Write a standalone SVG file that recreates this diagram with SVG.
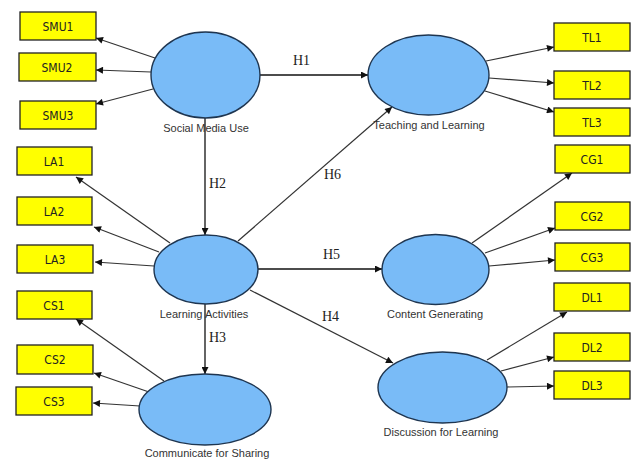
<svg xmlns="http://www.w3.org/2000/svg" width="631" height="462" viewBox="0 0 631 462">
<defs>
<marker id="ah" viewBox="0 0 10 10" refX="10" refY="5" markerWidth="9" markerHeight="7" markerUnits="userSpaceOnUse" orient="auto">
<path d="M0,0 L10,5 L0,10 z" fill="#111"/>
</marker>
<style>
.box{fill:#FFFF00;stroke:#222;stroke-width:1.3}
.bt{font-family:"DejaVu Sans Condensed","Liberation Sans",Arial,sans-serif;font-stretch:condensed;font-size:12px;fill:#222;text-anchor:middle}
.el{fill:#79BBF7;stroke:#1E3550;stroke-width:1.4}
.et{font-family:"Liberation Sans",Arial,sans-serif;font-size:11px;fill:#333;text-anchor:middle}
.ln{stroke:#333;stroke-width:1.2;fill:none;marker-end:url(#ah)}
.hl{stroke:#111;stroke-width:1.3;fill:none;marker-end:url(#ah)}
.ht{font-family:"Liberation Serif","Times New Roman",serif;font-size:14px;fill:#222}
</style>
</defs>
<rect width="631" height="462" fill="#fff"/>
<g id="connectors">
<line class="hl" x1="260" y1="75" x2="368" y2="75"/>
<line class="hl" x1="205" y1="118" x2="205" y2="235"/>
<line class="hl" x1="205" y1="304" x2="205" y2="374"/>
<line class="hl" x1="258" y1="269" x2="382" y2="269"/>
<line class="ln" x1="250" y1="290" x2="393" y2="363"/>
<line class="ln" x1="238" y1="241" x2="392" y2="107"/>
<line class="ln" x1="155" y1="58" x2="96" y2="38"/>
<line class="ln" x1="151" y1="72" x2="96" y2="70"/>
<line class="ln" x1="153" y1="89" x2="96" y2="104"/>
<line class="ln" x1="170" y1="243" x2="76" y2="177"/>
<line class="ln" x1="159" y1="252" x2="94" y2="227"/>
<line class="ln" x1="154" y1="266" x2="95" y2="262"/>
<line class="ln" x1="164" y1="381" x2="76" y2="319"/>
<line class="ln" x1="149" y1="392" x2="94" y2="373"/>
<line class="ln" x1="140" y1="406" x2="93" y2="403"/>
<line class="ln" x1="486" y1="61" x2="554" y2="47"/>
<line class="ln" x1="489" y1="78" x2="554" y2="83"/>
<line class="ln" x1="485" y1="91" x2="554" y2="112"/>
<line class="ln" x1="472" y1="243" x2="572" y2="173"/>
<line class="ln" x1="485" y1="253" x2="555" y2="228"/>
<line class="ln" x1="489" y1="266" x2="555" y2="260"/>
<line class="ln" x1="487" y1="360" x2="567" y2="312"/>
<line class="ln" x1="501" y1="371" x2="554" y2="357"/>
<line class="ln" x1="507" y1="387" x2="554" y2="386"/>
<text class="ht" x="293" y="65">H1</text>
<text class="ht" x="209" y="188">H2</text>
<text class="ht" x="209" y="342">H3</text>
<text class="ht" x="322" y="321">H4</text>
<text class="ht" x="323" y="259">H5</text>
<text class="ht" x="324" y="179">H6</text>
</g>
<g id="SMU"><ellipse class="el" cx="205.5" cy="75" rx="54.5" ry="43"/><text class="et" x="206" y="132">Social Media Use</text></g>
<g id="TL"><ellipse class="el" cx="428.5" cy="75" rx="60.5" ry="40"/><text class="et" x="429" y="129">Teaching and Learning</text></g>
<g id="LA"><ellipse class="el" cx="206" cy="269.5" rx="52" ry="34.5"/><text class="et" x="204" y="318">Learning Activities</text></g>
<g id="CG"><ellipse class="el" cx="435.5" cy="269.5" rx="53.5" ry="35"/><text class="et" x="435" y="318">Content Generating</text></g>
<g id="CS"><ellipse class="el" cx="205" cy="409.5" rx="66" ry="35.5"/><text class="et" x="207" y="457">Communicate for Sharing</text></g>
<g id="DL"><ellipse class="el" cx="442.5" cy="387.5" rx="64.5" ry="35.5"/><text class="et" x="441" y="436">Discussion for Learning</text></g>
<g id="SMU1"><rect class="box" x="20" y="12" width="76" height="28"/><text class="bt" x="58" y="31">SMU1</text></g>
<g id="SMU2"><rect class="box" x="19" y="53" width="77" height="28"/><text class="bt" x="57" y="72">SMU2</text></g>
<g id="SMU3"><rect class="box" x="20" y="101" width="76" height="28"/><text class="bt" x="58" y="120">SMU3</text></g>
<g id="LA1"><rect class="box" x="17" y="147" width="75" height="28"/><text class="bt" x="54" y="166">LA1</text></g>
<g id="LA2"><rect class="box" x="17" y="197" width="75" height="28"/><text class="bt" x="54" y="216">LA2</text></g>
<g id="LA3"><rect class="box" x="17" y="245" width="76" height="28"/><text class="bt" x="55" y="264">LA3</text></g>
<g id="CS1"><rect class="box" x="17" y="291" width="75" height="28"/><text class="bt" x="54" y="310">CS1</text></g>
<g id="CS2"><rect class="box" x="17" y="345" width="76" height="29"/><text class="bt" x="55" y="364">CS2</text></g>
<g id="CS3"><rect class="box" x="16" y="387" width="76" height="28"/><text class="bt" x="54" y="406">CS3</text></g>
<g id="TL1"><rect class="box" x="554" y="23" width="76" height="28"/><text class="bt" x="592" y="42">TL1</text></g>
<g id="TL2"><rect class="box" x="554" y="71" width="76" height="28"/><text class="bt" x="592" y="90">TL2</text></g>
<g id="TL3"><rect class="box" x="554" y="108" width="76" height="28"/><text class="bt" x="592" y="127">TL3</text></g>
<g id="CG1"><rect class="box" x="555" y="145" width="75" height="28"/><text class="bt" x="592" y="164">CG1</text></g>
<g id="CG2"><rect class="box" x="555" y="202" width="75" height="28"/><text class="bt" x="592" y="221">CG2</text></g>
<g id="CG3"><rect class="box" x="555" y="243" width="75" height="28"/><text class="bt" x="592" y="262">CG3</text></g>
<g id="DL1"><rect class="box" x="554" y="283" width="76" height="28"/><text class="bt" x="592" y="302">DL1</text></g>
<g id="DL2"><rect class="box" x="554" y="333" width="76" height="28"/><text class="bt" x="592" y="352">DL2</text></g>
<g id="DL3"><rect class="box" x="554" y="371" width="76" height="28"/><text class="bt" x="592" y="390">DL3</text></g>
</svg>
